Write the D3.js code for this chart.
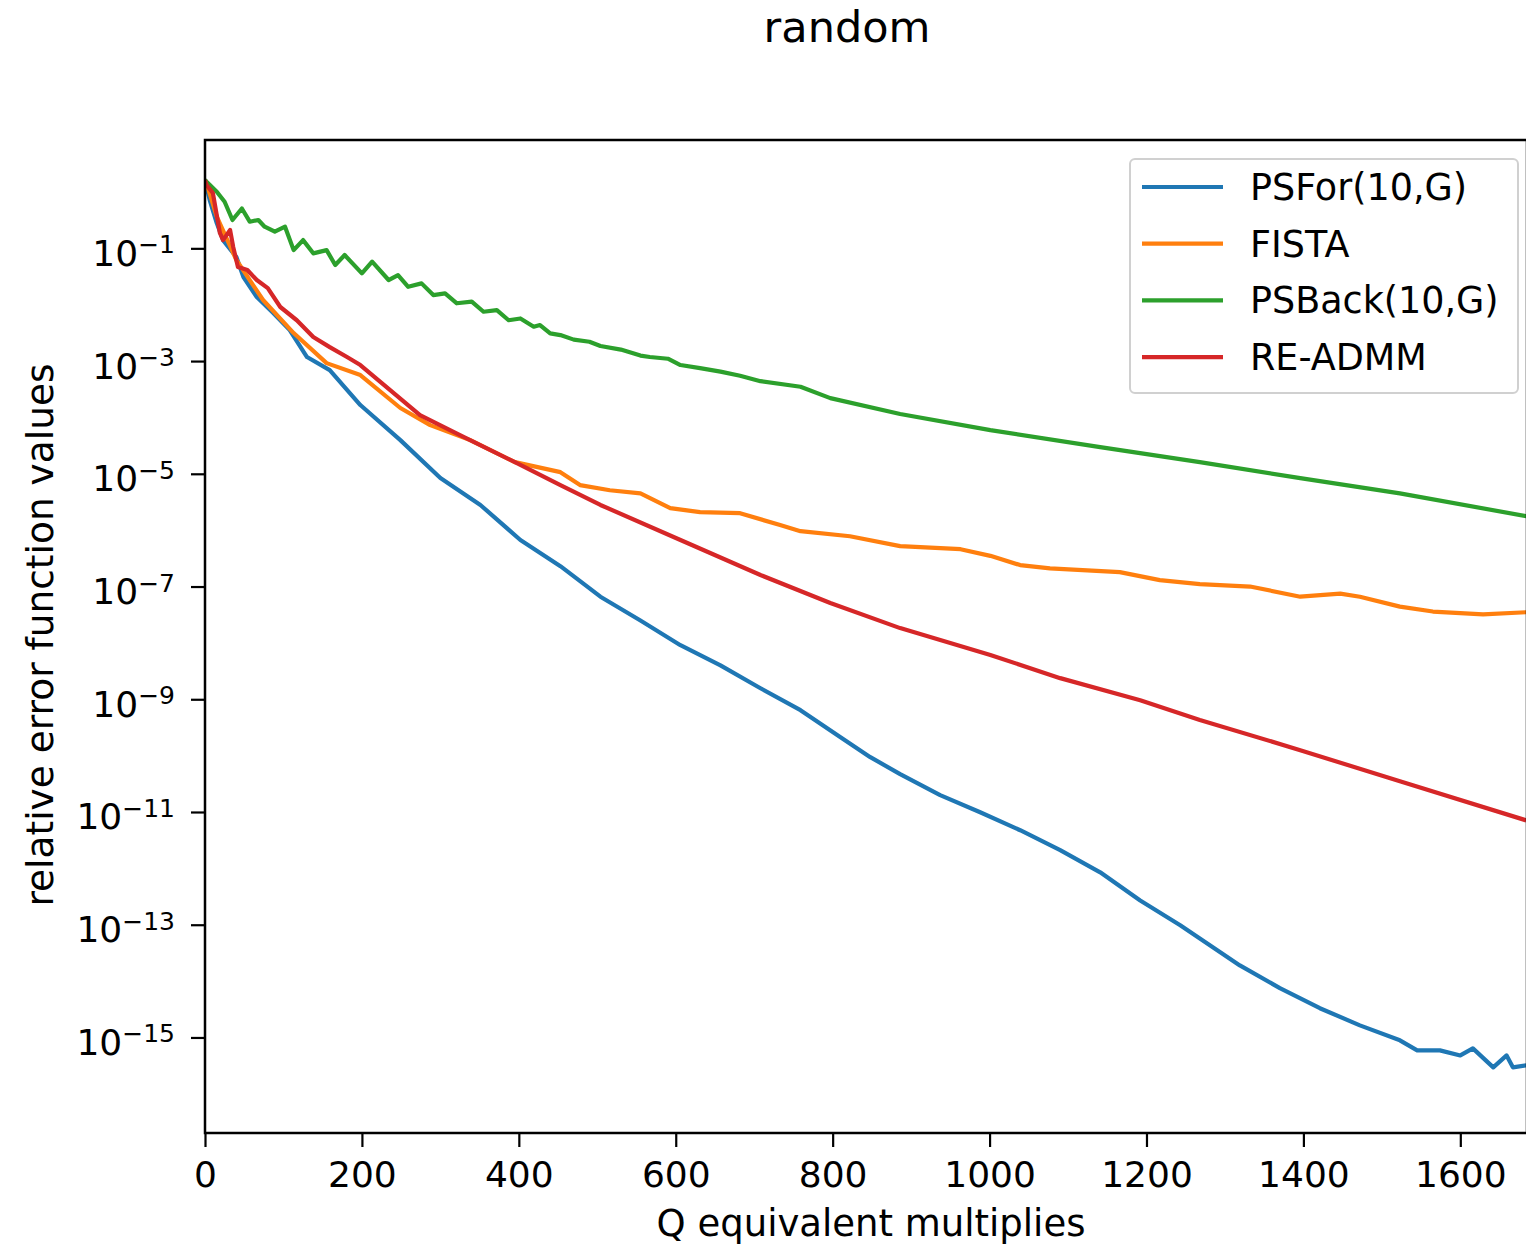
<!DOCTYPE html>
<meta charset="utf-8">
<style>
    body {
        margin: 0;
        background-color: #ffffff;
    }
    text {
        font-family: "DejaVu Sans", sans-serif;
        fill: #000;
    }
</style>
<body>
<svg width="1526" height="1249"></svg>
<script src="https://cdn.jsdelivr.net/npm/d3@7"></script>
<script>
    // values, [Q multiplies, relative error]
    var psFor = [
        [0, 1.63], [6, 0.72], [15, 0.281], [23, 0.14], [40, 0.070], [49, 0.031],
        [66, 0.0137], [87, 0.0071], [108, 0.00355], [130, 0.00118], [159, 0.00069],
        [198, 1.66e-4], [249, 3.96e-5], [300, 8.4e-6], [351, 2.8e-6], [402, 6.7e-7],
        [453, 2.3e-7], [504, 6.6e-8], [555, 2.5e-8], [606, 9.1e-9], [657, 4.0e-9],
        [708, 1.57e-9], [759, 6.4e-10], [810, 2.12e-10], [848, 9.4e-11], [886, 4.7e-11],
        [937, 1.99e-11], [988, 9.9e-12], [1039, 4.75e-12], [1090, 2.1e-12], [1141, 8.5e-13],
        [1192, 2.7e-13], [1243, 9.8e-14], [1294, 3.25e-14], [1319, 1.9e-14], [1370, 7.5e-15],
        [1421, 3.3e-15], [1472, 1.64e-15], [1523, 8.9e-16], [1545, 5.9e-16], [1574, 5.9e-16],
        [1600, 4.8e-16], [1616, 6.4e-16], [1642, 2.95e-16], [1659, 4.8e-16], [1667, 2.95e-16],
        [1684, 3.2e-16]
    ];
    var fista = [
        [0, 1.52], [2, 1.42], [15, 0.364], [40, 0.062], [74, 0.0121], [113, 0.00314],
        [155, 9.2e-4], [198, 5.65e-4], [249, 1.47e-4], [287, 7.3e-5], [338, 3.96e-5],
        [395, 1.61e-5], [453, 1.07e-5], [478, 6.3e-6], [516, 5.1e-6], [555, 4.5e-6],
        [593, 2.46e-6], [631, 2.09e-6], [682, 2.0e-6], [733, 1.23e-6], [759, 9.6e-7],
        [822, 7.8e-7], [886, 5.2e-7], [963, 4.6e-7], [1001, 3.5e-7], [1039, 2.4e-7],
        [1077, 2.1e-7], [1166, 1.8e-7], [1217, 1.3e-7], [1268, 1.1e-7], [1332, 1.0e-7],
        [1396, 6.6e-8], [1447, 7.5e-8], [1472, 6.6e-8], [1523, 4.4e-8], [1565, 3.6e-8],
        [1629, 3.2e-8], [1684, 3.5e-8]
    ];
    var psBack = [
        [0, 1.63], [2, 1.52], [15, 1.01], [25, 0.67], [35, 0.318], [47, 0.51], [57, 0.297],
        [68, 0.318], [76, 0.242], [89, 0.197], [102, 0.242], [113, 0.093], [125, 0.14],
        [138, 0.0815], [155, 0.093], [166, 0.0506], [178, 0.076], [200, 0.036], [213, 0.058],
        [234, 0.0274], [246, 0.0336], [259, 0.0208], [276, 0.0239], [291, 0.0148], [306, 0.0159],
        [321, 0.0106], [340, 0.0113], [355, 0.0075], [372, 0.0080], [387, 0.0053], [402, 0.0057],
        [419, 0.00407], [427, 0.00436], [440, 0.0031], [453, 0.00289], [470, 0.0024],
        [490, 0.0022], [504, 0.00185], [530, 0.0016], [555, 0.00125], [567, 0.00118],
        [590, 0.0011], [606, 8.5e-4], [631, 7.5e-4], [657, 6.5e-4], [682, 5.5e-4],
        [708, 4.4e-4], [759, 3.5e-4], [797, 2.2e-4], [886, 1.15e-4], [1001, 5.96e-5],
        [1141, 2.98e-5], [1268, 1.61e-5], [1396, 8.4e-6], [1523, 4.5e-6], [1684, 1.77e-6]
    ];
    var reAdmm = [
        [0, 1.63], [2, 1.33], [10, 0.96], [19, 0.187], [23, 0.14], [32, 0.211], [36, 0.105],
        [42, 0.0466], [54, 0.0412], [66, 0.0274], [80, 0.0197], [96, 0.0091], [117, 0.0053],
        [138, 0.00267], [159, 0.00177], [181, 0.00118], [198, 8.5e-4], [274, 1.1e-4],
        [325, 4.86e-5], [395, 1.61e-5], [453, 6.3e-6], [504, 2.8e-6], [606, 6.7e-7],
        [708, 1.6e-7], [797, 5.1e-8], [886, 1.83e-8], [1001, 6.1e-9], [1090, 2.37e-9],
        [1192, 9.6e-10], [1268, 4.3e-10], [1396, 1.25e-10], [1523, 3.5e-11], [1684, 7.1e-12]
    ];

    var seriesNames = ["PSFor(10,G)", "FISTA", "PSBack(10,G)", "RE-ADMM"];
    var seriesColors = ["#1f77b4", "#ff7f0e", "#2ca02c", "#d62728"];
    var xTicks = [0, 200, 400, 600, 800, 1000, 1200, 1400, 1600];
    var yTickExps = [-1, -3, -5, -7, -9, -11, -13, -15];

    var svg = d3.select("svg"),
        margin = {top: 140, right: 0, bottom: 116, left: 205},
        width = 1322,
        height = 993;

    var x = d3.scaleLinear().domain([0, 1685]).range([0, width]);
    var y = d3.scaleLog().domain([Math.pow(10, 0.922), Math.pow(10, -16.695)]).range([0, height]);

    var g = svg.append("g")
        .attr("transform", "translate(" + margin.left + "," + margin.top + ")");

    g.append("clipPath").attr("id", "clip")
        .append("rect").attr("width", width).attr("height", height);

    var line = d3.line()
        .x(function(d) { return x(d[0]); })
        .y(function(d) { return y(d[1]); });

    var allSeries = [psFor, fista, psBack, reAdmm];
    g.append("g").attr("clip-path", "url(#clip)")
        .selectAll("path")
        .data(allSeries)
        .enter().append("path")
        .attr("d", line)
        .attr("fill", "none")
        .attr("stroke", function(d, i) { return seriesColors[i]; })
        .attr("stroke-width", 4.2)
        .attr("stroke-linejoin", "round");

    // axes
    var xAxis = g.append("g")
        .attr("transform", "translate(0," + height + ")")
        .call(d3.axisBottom(x).tickValues(xTicks).tickSize(14).tickPadding(12).tickFormat(d3.format("d")));
    xAxis.select(".domain").remove();
    xAxis.selectAll("line").attr("stroke", "#000").attr("stroke-width", 2.2);
    xAxis.selectAll("text").attr("font-size", 36).attr("font-family", "DejaVu Sans").attr("dy", "0.78em");

    var yAxis = g.append("g")
        .call(d3.axisLeft(y).tickValues(yTickExps.map(function(e) { return Math.pow(10, e); }))
            .tickSize(14).tickFormat(""));
    yAxis.select(".domain").remove();
    yAxis.selectAll("line").attr("stroke", "#000").attr("stroke-width", 2.2);
    yAxis.selectAll(".tick").each(function(d) {
        var t = d3.select(this).append("text")
            .attr("x", -30)
            .attr("y", 17)
            .attr("text-anchor", "end")
            .attr("font-size", 36);
        t.append("tspan").text("10");
        t.append("tspan").attr("font-size", 25).attr("dy", -12.5)
            .text("\u2212" + Math.round(-Math.log10(d)));
    });

    // spines
    g.append("rect")
        .attr("width", width)
        .attr("height", height)
        .attr("fill", "none")
        .attr("stroke", "#000")
        .attr("stroke-width", 2.5);

    // legend
    var legend = svg.append("g").attr("transform", "translate(1130,159)");
    legend.append("rect")
        .attr("width", 388).attr("height", 234)
        .attr("rx", 5)
        .attr("fill", "#fff").attr("fill-opacity", 0.8)
        .attr("stroke", "#d0d0d0").attr("stroke-width", 2);
    var items = legend.selectAll(".item")
        .data(seriesNames)
        .enter().append("g")
        .attr("class", "item")
        .attr("transform", function(d, i) { return "translate(0," + (28 + i * 56.7) + ")"; });
    items.append("line")
        .attr("x1", 12).attr("x2", 93)
        .attr("stroke", function(d, i) { return seriesColors[i]; })
        .attr("stroke-width", 4.2);
    items.append("text")
        .attr("x", 120).attr("y", 13)
        .attr("font-size", 36.5)
        .text(function(d) { return d; });

    // titles
    svg.append("text")
        .attr("x", 847).attr("y", 42)
        .attr("text-anchor", "middle")
        .attr("font-size", 43)
        .text("random");
    svg.append("text")
        .attr("x", 871).attr("y", 1236)
        .attr("text-anchor", "middle")
        .attr("font-size", 37)
        .text("Q equivalent multiplies");
    svg.append("text")
        .attr("transform", "translate(53,635) rotate(-90)")
        .attr("text-anchor", "middle")
        .attr("font-size", 37.5)
        .text("relative error function values");
</script>
</body>
